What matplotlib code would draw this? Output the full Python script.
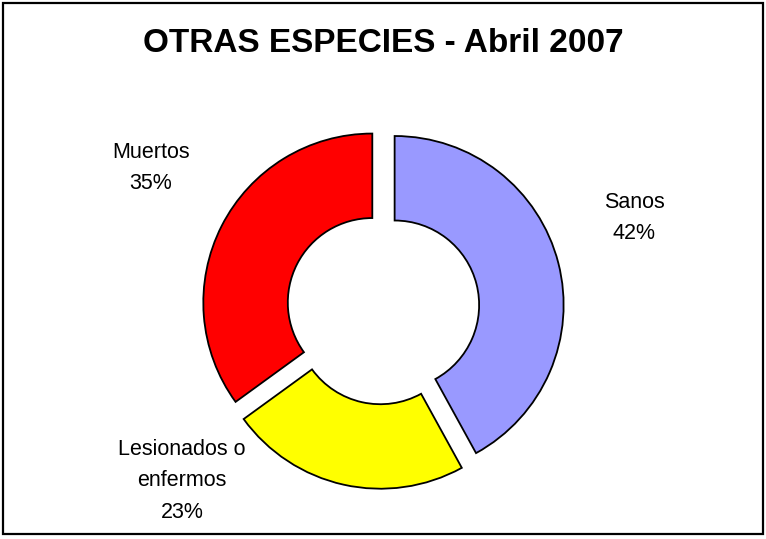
import matplotlib.pyplot as plt
from matplotlib.patches import Rectangle

plt.rcParams['font.family'] = ['Liberation Sans', 'DejaVu Sans']

categories = ["Sanos", "Lesionados o\nenfermos", "Muertos"]
values = [42, 23, 35]
colors = ["#9999FF", "#FFFF00", "#FF0000"]
# label positions in pixels (x, y from top)
label_pos = [(634, 218), (182, 481), (151, 168)]

W, H = 766, 539
fig = plt.figure(figsize=(W / 100, H / 100), dpi=100)
ax = fig.add_axes([0, 0, 1, 1])

cx, cy = 383, 308
R = 169
ax.pie(values, colors=colors, startangle=90, counterclock=False,
       center=(cx, -cy), radius=R, explode=[12] * len(values),
       wedgeprops=dict(width=R * 0.5, edgecolor="black", linewidth=1.3))

for cat, v, (lx, ly) in zip(categories, values, label_pos):
	ax.text(lx, -ly, cat + "\n" + str(v) + "%", ha="center", va="center",
			fontsize=15.5, linespacing=1.68, color="black")

ax.set_xlim(0, W)
ax.set_ylim(-H, 0)
ax.set_aspect("equal")
ax.axis("off")

fig.text(0.5, 1 - 43 / H, "OTRAS ESPECIES - Abril 2007", ha="center", va="center",
		 fontsize=24, fontweight="bold")

fig.patches.append(Rectangle((3 / W, 5 / H), 1 - 6 / W, 1 - 8 / H, transform=fig.transFigure,
							 fill=False, edgecolor="black", linewidth=1.6))

plt.savefig("out.png", dpi=100)
